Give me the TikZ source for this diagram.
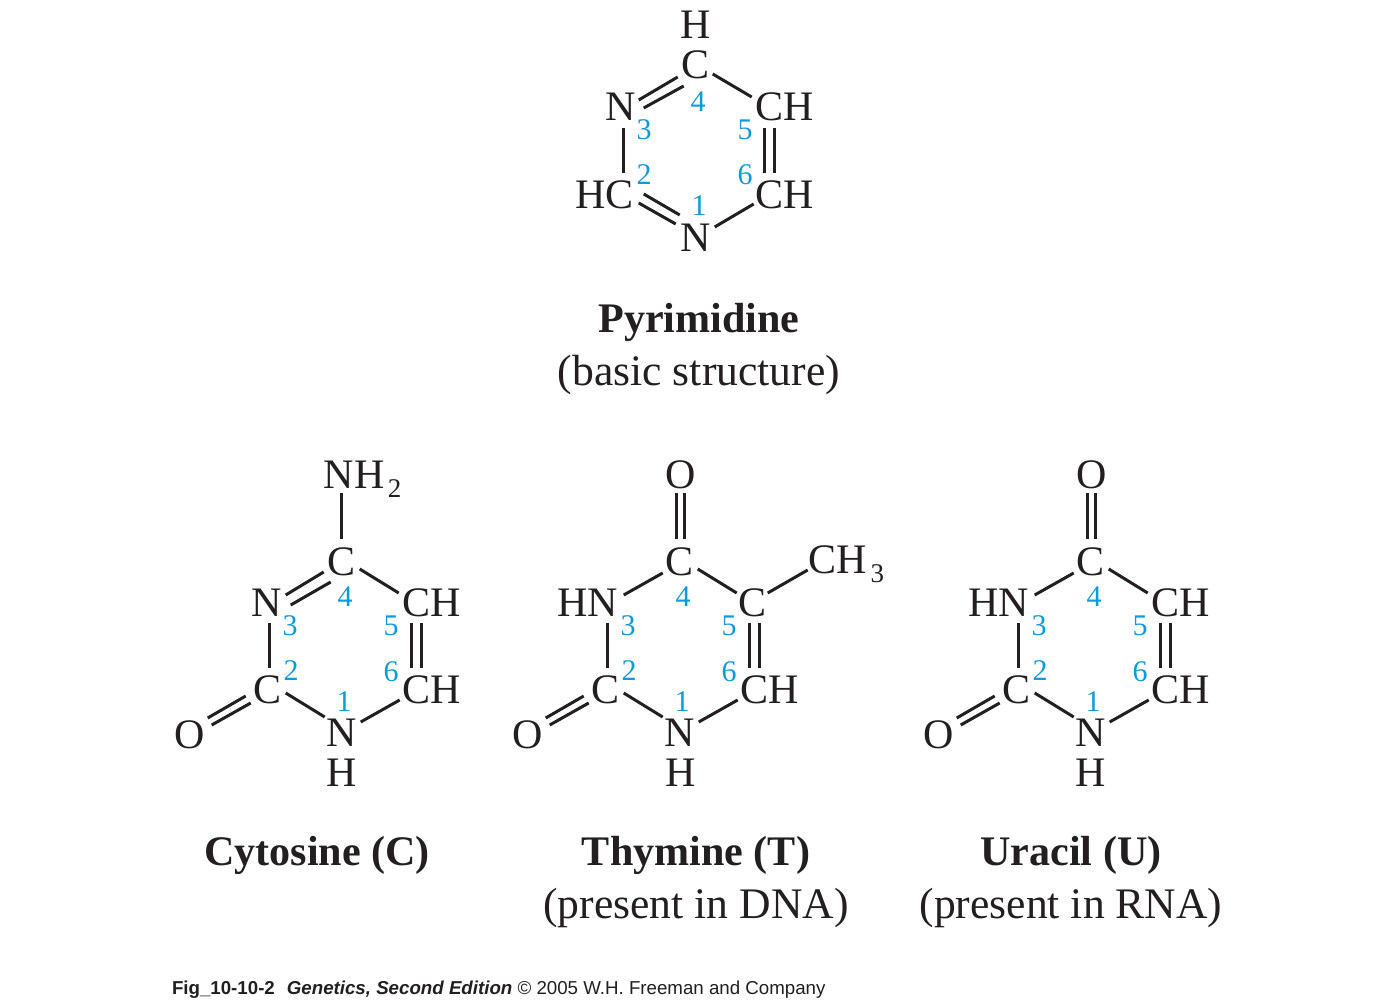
\documentclass[tikz,border=0pt]{standalone}
\usepackage{fontspec}
\setmainfont{Liberation Serif}
\newfontfamily\footfont{Liberation Sans}
\usetikzlibrary{calc}
\definecolor{ink}{HTML}{231F20}
\definecolor{numblue}{HTML}{0E9BD8}
\tikzset{
  atom/.style={inner sep=0pt,outer sep=0pt,text=ink,xshift=.7pt,font=\fontsize{42}{42}\selectfont,text height=27pt,text depth=0pt},
  num/.style={inner sep=0pt,outer sep=0pt,text=numblue,yshift=-1pt,font=\fontsize{30}{30}\selectfont,text height=20pt,text depth=0pt},
  title/.style={inner sep=0pt,outer sep=0pt,text=ink,anchor=base,yshift=-1pt,font=\fontsize{43.6}{44}\selectfont},
  btitle/.style={inner sep=0pt,outer sep=0pt,text=ink,anchor=base,yshift=-.7pt,font=\fontsize{42.1}{44}\selectfont\bfseries},
  bond/.style={draw=ink,line width=3pt},
  foot/.style={inner sep=0pt,outer sep=0pt,text=ink,anchor=base west,font=\fontsize{18.7}{19}\selectfont\footfont}
}
\newcommand{\bnd}[6]{\draw[bond] ($(#1)+(#2,#3)$) -- ($(#4)+(#5,#6)$);}
\newcommand{\sbs}[1]{\hspace{3.5pt}\raisebox{-9pt}{\fontsize{27}{27}\selectfont #1}}
\begin{document}
\begin{tikzpicture}[x=1pt,y=-1pt]
\path[use as bounding box,fill=white] (0,0) rectangle (1399,1000);

% Pyrimidine
\node[atom] (pH) at (695,25) {H};
\node[atom] (p4) at (695,65) {C};
\node[atom] (p3) at (620,107) {N};
\node[atom] (p5) at (784,107) {CH};
\node[atom] (p2) at (604,195) {HC};
\node[atom] (p6) at (784,195) {CH};
\node[atom] (p1) at (695,238) {N};
\node[num] (pn4) at (698,101) {4};
\node[num] (pn3) at (644,129) {3};
\node[num] (pn5) at (745,129) {5};
\node[num] (pn2) at (644,174) {2};
\node[num] (pn6) at (745,174) {6};
\node[num] (pn1) at (699,205) {1};
\bnd{p3}{18}{-7}{p4}{-18}{12}
\bnd{p3}{23}{1}{p4}{-12}{21}
\bnd{p4}{17}{9}{p5}{-33}{-10}
\bnd{p5}{-20}{21}{p6}{-20}{-22}
\bnd{p5}{-10}{21}{p6}{-10}{-22}
\bnd{p3}{3}{21}{p2}{19}{-22}
\bnd{p2}{39}{-1}{p1}{-16}{-23}
\bnd{p2}{34}{8}{p1}{-20}{-14}
\bnd{p1}{19}{-11}{p6}{-31}{9}
\node[btitle] (pt1) at (699,332) {Pyrimidine};
\node[title] (pt2) at (699,384) {(basic structure)};

% Cytosine
\node[atom,anchor=west] (cN) at (323,475) {NH\sbs{2}};
\node[atom] (c4) at (341,562) {C};
\node[atom] (c3) at (266,603) {N};
\node[atom] (c5) at (431,603) {CH};
\node[atom] (c2) at (267,690) {C};
\node[atom] (c6) at (431,690) {CH};
\node[atom] (cO) at (189,735) {O};
\node[atom] (c1) at (341,733) {N};
\node[atom] (cH) at (341,773) {H};
\node[num] (cn4) at (345,595) {4};
\node[num] (cn3) at (290,624) {3};
\node[num] (cn5) at (391,624) {5};
\node[num] (cn2) at (291,669) {2};
\node[num] (cn6) at (391,670) {6};
\node[num] (cn1) at (344,700) {1};
\bnd{cN.west}{18}{18}{c4}{0}{-23}
\bnd{c3}{19}{-8}{c4}{-18}{10}
\bnd{c3}{24}{2}{c4}{-11}{20}
\bnd{c4}{18}{7}{c5}{-33}{-10}
\bnd{c5}{-20}{20}{c6}{-20}{-22}
\bnd{c5}{-10}{20}{c6}{-10}{-22}
\bnd{c3}{3}{20}{c2}{2}{-22}
\bnd{cO}{18}{-17}{c2}{-22}{6}
\bnd{cO}{22}{-10}{c2}{-17}{13}
\bnd{c2}{18}{3}{c1}{-17}{-16}
\bnd{c1}{19}{-11}{c6}{-32}{10}
\node[btitle] (ct1) at (317,865) {Cytosine (C)};

% Thymine
\node[atom] (tO) at (680,475) {O};
\node[atom] (t4) at (679,562) {C};
\node[atom] (t3) at (587,603) {HN};
\node[atom] (t5) at (752,603) {C};
\node[atom,anchor=west] (tM) at (808,560) {CH\sbs{3}};
\node[atom] (t2) at (605,690) {C};
\node[atom] (t6) at (769,690) {CH};
\node[atom] (tP) at (527,735) {O};
\node[atom] (t1) at (679,733) {N};
\node[atom] (tH) at (680,773) {H};
\node[num] (tn4) at (683,595) {4};
\node[num] (tn3) at (628,624) {3};
\node[num] (tn5) at (729,624) {5};
\node[num] (tn2) at (629,669) {2};
\node[num] (tn6) at (729,670) {6};
\node[num] (tn1) at (682,700) {1};
\bnd{tO}{-4}{18}{t4}{-3}{-23}
\bnd{tO}{4}{18}{t4}{5}{-23}
\bnd{t3}{36}{-8}{t4}{-17}{11}
\bnd{t4}{18}{7}{t5}{-16}{-10}
\bnd{t5}{15}{-10}{tM.west}{-1}{10}
\bnd{t3}{20}{20}{t2}{2}{-22}
\bnd{t5}{-3}{20}{t6}{-20}{-22}
\bnd{t5}{7}{20}{t6}{-10}{-22}
\bnd{tP}{18}{-17}{t2}{-22}{6}
\bnd{tP}{22}{-10}{t2}{-17}{13}
\bnd{t2}{18}{3}{t1}{-17}{-16}
\bnd{t1}{19}{-11}{t6}{-32}{10}
\node[btitle] (tt1) at (696,865) {Thymine (T)};
\node[title] (tt2) at (696,917) {(present in DNA)};

% Uracil
\node[atom] (uO) at (1091,475) {O};
\node[atom] (u4) at (1090,562) {C};
\node[atom] (u3) at (998,603) {HN};
\node[atom] (u5) at (1180,603) {CH};
\node[atom] (u2) at (1016,690) {C};
\node[atom] (u6) at (1180,690) {CH};
\node[atom] (uP) at (938,735) {O};
\node[atom] (u1) at (1090,733) {N};
\node[atom] (uH) at (1090,773) {H};
\node[num] (un4) at (1094,595) {4};
\node[num] (un3) at (1039,624) {3};
\node[num] (un5) at (1140,624) {5};
\node[num] (un2) at (1040,669) {2};
\node[num] (un6) at (1140,670) {6};
\node[num] (un1) at (1093,700) {1};
\bnd{uO}{-4}{18}{u4}{-3}{-23}
\bnd{uO}{4}{18}{u4}{5}{-23}
\bnd{u3}{36}{-8}{u4}{-17}{11}
\bnd{u4}{18}{7}{u5}{-33}{-10}
\bnd{u5}{-20}{20}{u6}{-20}{-22}
\bnd{u5}{-10}{20}{u6}{-10}{-22}
\bnd{u3}{20}{20}{u2}{2}{-22}
\bnd{uP}{18}{-17}{u2}{-22}{6}
\bnd{uP}{22}{-10}{u2}{-17}{13}
\bnd{u2}{18}{3}{u1}{-17}{-16}
\bnd{u1}{19}{-11}{u6}{-32}{10}
\node[btitle] (ut1) at (1071,865) {Uracil (U)};
\node[title] (ut2) at (1071,917) {(present in RNA)};

% Credit line
\node[foot] (cr) at (172,994) {\textbf{Fig\_10-10-2\hspace{12pt}\itshape Genetics, Second Edition} © 2005 W.H. Freeman and Company};
\end{tikzpicture}
\end{document}
